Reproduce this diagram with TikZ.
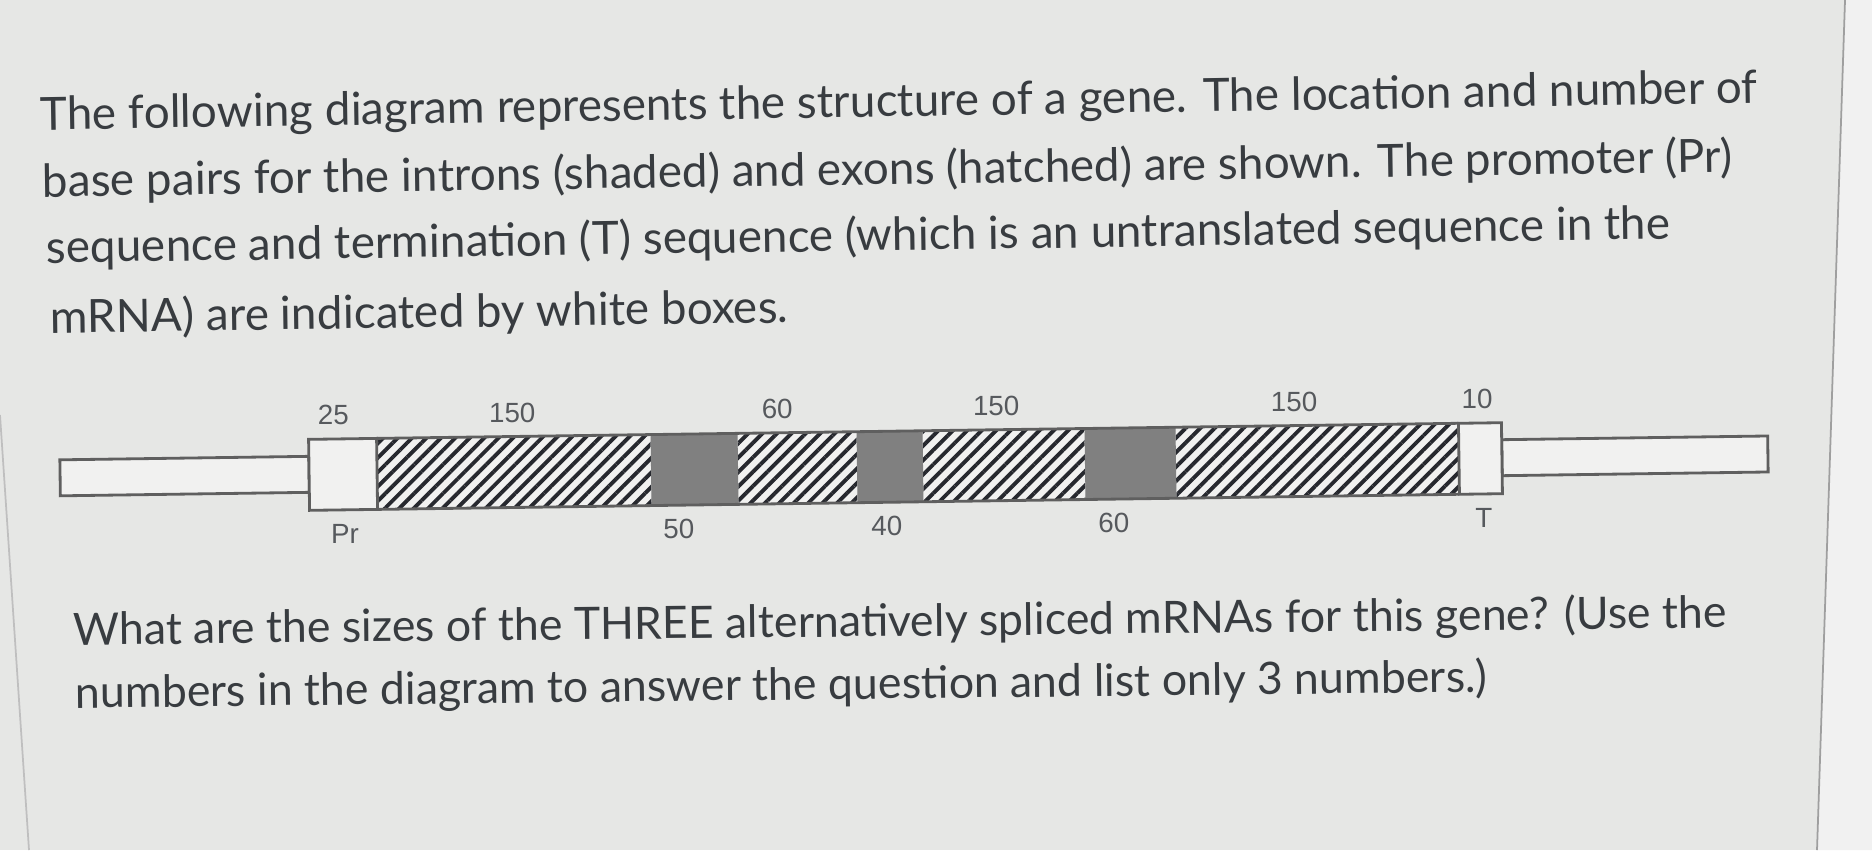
\documentclass[tikz,border=0pt]{standalone}
\usepackage{fontspec}
\setmainfont{Lato}
\newfontfamily\labelfont{Liberation Sans}
\usetikzlibrary{patterns.meta}

\definecolor{screen}{RGB}{230,231,229}
\definecolor{panel}{RGB}{241,241,241}
\definecolor{ink}{RGB}{56,60,64}
\definecolor{boxline}{RGB}{95,95,95}
\definecolor{boxfill}{RGB}{241,241,240}
\definecolor{introngray}{RGB}{128,128,128}
\definecolor{hatchink}{RGB}{38,40,46}

\tikzset{
  para/.style={anchor=base west, inner sep=0pt, text=ink, font=\fontsize{13.03}{15}\selectfont},
  lowpara/.style={para, font=\fontsize{12.7}{15}\selectfont},
  bp/.style={inner sep=0pt, text=ink!85, font=\labelfont\fontsize{7.9}{9}\selectfont},
  flank/.style={draw=boxline, fill=boxfill, line width=0.8pt},
  exon/.style={preaction={fill=boxfill}, pattern={Lines[angle=45,distance=2.9pt,line width=1.1pt]}, pattern color=hatchink},
  intron/.style={fill=introngray},
}

\begin{document}
\begin{tikzpicture}[x=0.1mm,y=-0.1mm]
    \useasboundingbox (0,0) rectangle (1872,850);
    % screen
    \fill[screen] (0,0) rectangle (1872,850);
    \fill[panel] (1845,0) -- (1872,0) -- (1872,850) -- (1817,850) -- cycle;
    \draw[boxline!60, line width=0.5pt] (1845,0) -- (1817,850);
    \draw[boxline!40, line width=0.5pt] (0,415) -- (29,850);

    % question text
    \node[para, rotate=0.9] (q1) at (40,130) {The following diagram represents the structure of a gene. The location and number of};
    \node[para, rotate=0.85] (q2) at (42,197) {base pairs for the introns (shaded) and exons (hatched) are shown. The promoter (Pr)};
    \node[para, rotate=0.85] (q3) at (46,263) {sequence and termination (T) sequence (which is an untranslated sequence in the};
    \node[para, rotate=0.8] (q4) at (50,333) {mRNA) are indicated by white boxes.};

    \begin{scope}[rotate around={0.8:(906,466)}]
    % flanking DNA
    \draw[flank] (60,448) rectangle (309,484);
    \draw[flank] (1502,448) rectangle (1768,484);
    % exons
    \fill[exon] (377,431) rectangle (651,502);
    \fill[exon] (738,431) rectangle (857,502);
    \fill[exon] (923,431) rectangle (1085,502);
    \fill[exon] (1176,431) rectangle (1459,502);
    % introns
    \fill[intron] (651,431) rectangle (738,502);
    \fill[intron] (857,431) rectangle (923,502);
    \fill[intron] (1085,431) rectangle (1176,502);
    % Pr and T
    \draw[flank] (309,431) rectangle (377,502);
    \draw[flank] (1459,431) rectangle (1502,502);
    \draw[boxline, line width=0.8pt] (377,431) -- (1459,431);
    \draw[boxline, line width=0.8pt] (377,502) -- (1459,502);

    % sizes above
    \node[bp] (sPr) at (334,407) {25};
    \node[bp] (sEx1) at (513,407) {150};
    \node[bp] (sEx2) at (778,407) {60};
    \node[bp] (sEx3) at (997,407) {150};
    \node[bp] (sEx4) at (1295,407) {150};
    \node[bp] (sT) at (1478,407) {10};
    % names and intron sizes below
    \node[bp] (lPr) at (344,526) {Pr};
    \node[bp] (sIn1) at (678,526) {50};
    \node[bp] (sIn2) at (886,526) {40};
    \node[bp] (sIn3) at (1113,526) {60};
    \node[bp] (lT) at (1483,526) {T};
    \end{scope}

    \node[lowpara, rotate=0.6] (a1) at (73,645) {What are the sizes of the THREE alternatively spliced mRNAs for this gene? (Use the};
    \node[lowpara, rotate=0.65] (a2) at (75,708) {numbers in the diagram to answer the question and list only 3 numbers.)};
\end{tikzpicture}
\end{document}
